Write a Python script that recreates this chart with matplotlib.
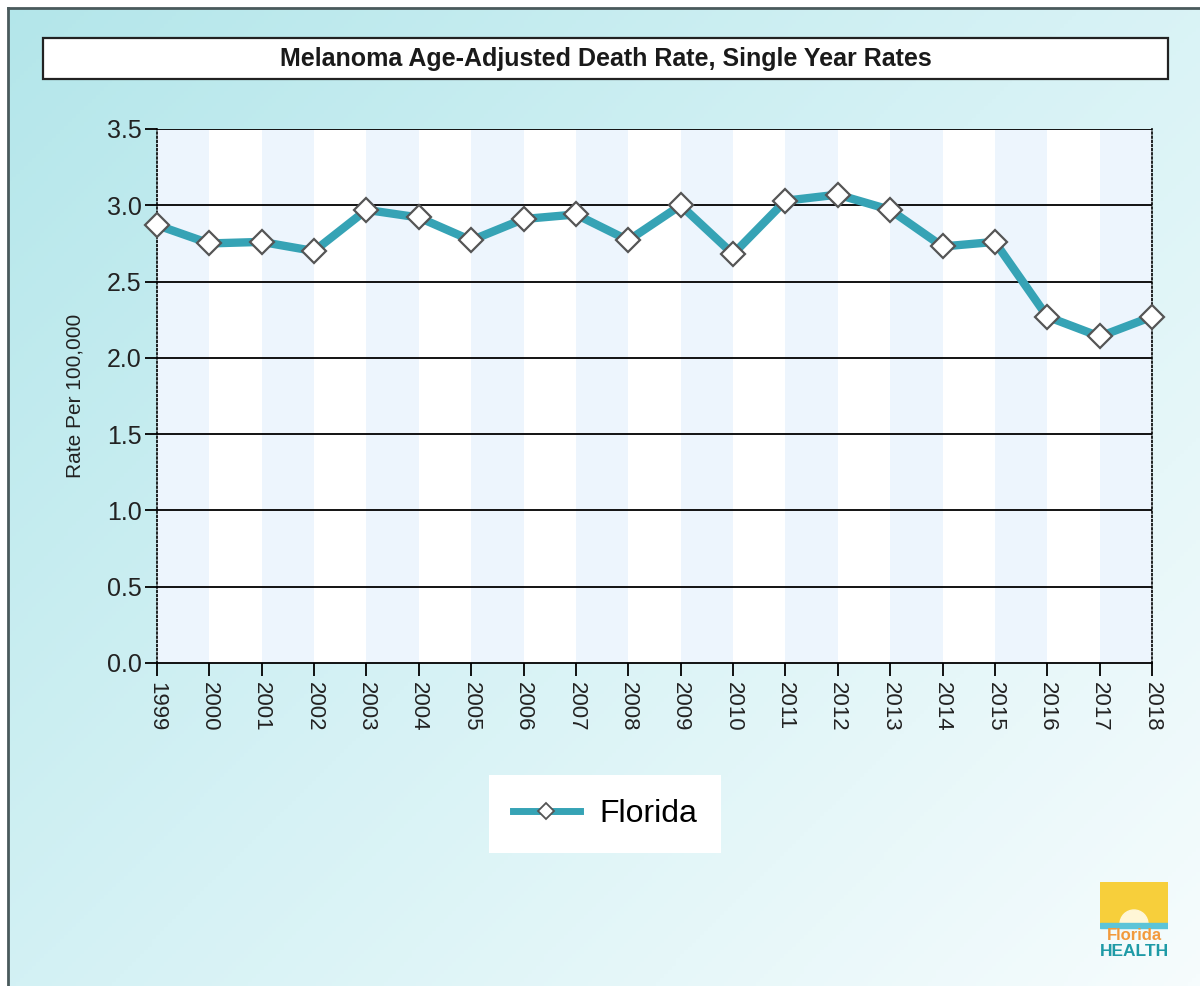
import numpy as np
import matplotlib
matplotlib.use('Agg')
import matplotlib.pyplot as plt
from matplotlib.patches import Rectangle, Wedge
from matplotlib.colors import LinearSegmentedColormap

years = [str(y) for y in range(1999, 2019)]
rates = [2.87, 2.75, 2.76, 2.70, 2.97, 2.92, 2.77, 2.91, 2.94, 2.77,
         3.00, 2.68, 3.03, 3.07, 2.97, 2.73, 2.76, 2.27, 2.14, 2.27]
yticks = [0.0, 0.5, 1.0, 1.5, 2.0, 2.5, 3.0, 3.5]
series_name = 'Florida'
title = 'Melanoma Age-Adjusted Death Rate, Single Year Rates'
ylabel = 'Rate Per 100,000'

plt.rcParams['font.family'] = ['Liberation Sans', 'DejaVu Sans']

W, H = 1200, 986
fig = plt.figure(figsize=(W / 100, H / 100), dpi=100)

# background gradient (cyan top-left -> near white bottom-right)
bg = fig.add_axes([0, 0, 1, 1], zorder=-10)
gx, gy = np.meshgrid(np.linspace(0, 1, 300), np.linspace(0, 1, 250))
grad = np.clip(0.55 * gx + 0.45 * gy, 0, 1)
cmap = LinearSegmentedColormap.from_list('bgc', ['#b3e6ea', '#d6f2f5', '#f6fcfd'])
bg.imshow(grad, cmap=cmap, extent=[0, W, H, 0], aspect='auto')
bg.set_xlim(0, W)
bg.set_ylim(H, 0)
bg.axis('off')
# outer white strip + left/top border lines
bg.add_patch(Rectangle((0, 0), W, 7, color='white', zorder=2))
bg.add_patch(Rectangle((0, 0), 7, H, color='white', zorder=2))
bg.plot([8, 8], [8, H], color='#4a5a5c', lw=2, zorder=3)
bg.plot([8, W], [8, 8], color='#4a5a5c', lw=2, zorder=3)

# title box
bg.add_patch(Rectangle((43, 38), 1125, 41, facecolor='white', edgecolor='#222222', lw=1.6, zorder=3))
bg.text(606, 59, title, ha='center', va='center', fontsize=18, fontweight='bold', color='#1a1a1a', zorder=4)

# main axes
ax = fig.add_axes([157 / W, 1 - 663 / H, (1152 - 157) / W, (663 - 129) / H])
x = np.arange(len(years))
ax.set_xlim(0, len(years) - 1)
ax.set_ylim(0, 3.5)
ax.set_facecolor('white')
for i in range(0, len(years) - 1, 2):
    ax.axvspan(i, i + 1, color='#edf5fd', lw=0, zorder=0)
for v in yticks[1:]:
    ax.axhline(v, color='black', lw=1.3, zorder=1)

ax.plot(x, rates, color='#36a3b5', lw=6, zorder=3, solid_capstyle='round')
ax.plot(x, rates, ls='none', marker='D', markersize=12, markerfacecolor='white',
        markeredgecolor='#555555', markeredgewidth=1.6, zorder=4, clip_on=False)

ax.set_yticks(yticks)
ax.set_yticklabels([f'{v:.1f}' for v in yticks], fontsize=18, color='#222222')
ax.set_xticks(x)
ax.set_xticklabels(years, rotation=270, fontsize=16, color='#222222')
ax.tick_params(axis='both', length=9, width=1.3, color='black', pad=2)
ax.tick_params(axis='x', pad=5)
for s in ['left', 'right']:
    ax.spines[s].set_linestyle((0, (1, 1.5)))
    ax.spines[s].set_linewidth(1.2)
ax.spines['top'].set_visible(False)
ax.spines['bottom'].set_linewidth(1.3)
ax.set_ylabel(ylabel, fontsize=15, color='#222222', labelpad=16)

# legend
leg_handle, = ax.plot([], [], color='#36a3b5', lw=5, marker='D', markersize=8,
                      markerfacecolor='white', markeredgecolor='#555555', markeredgewidth=1.3)
leg = fig.legend([leg_handle], [series_name], loc='center',
                 bbox_to_anchor=(605 / W, 1 - 814 / H), fontsize=23,
                 frameon=True, fancybox=False, framealpha=1, facecolor='white',
                 edgecolor='none', handlelength=2.1, borderpad=0.75, handletextpad=0.6)

# logo
lg = fig.add_axes([1100 / W, 1 - 958 / H, 68 / W, 76 / H])
lg.set_xlim(0, 68)
lg.set_ylim(0, 76)
lg.axis('off')
lg.add_patch(Rectangle((0, 34), 68, 42, color='#f7cf3b'))
lg.add_patch(Wedge((34, 34), 14, 0, 180, color='#fff6d6'))
lg.add_patch(Rectangle((0, 30), 68, 5, color='#5cc4d8'))
lg.text(34, 22, 'Florida', ha='center', va='center', fontsize=12, fontweight='bold', color='#f29a3c')
lg.text(34, 7, 'HEALTH', ha='center', va='center', fontsize=12.5, fontweight='bold', color='#1e9aa6')

fig.savefig('out.png', dpi=100)
